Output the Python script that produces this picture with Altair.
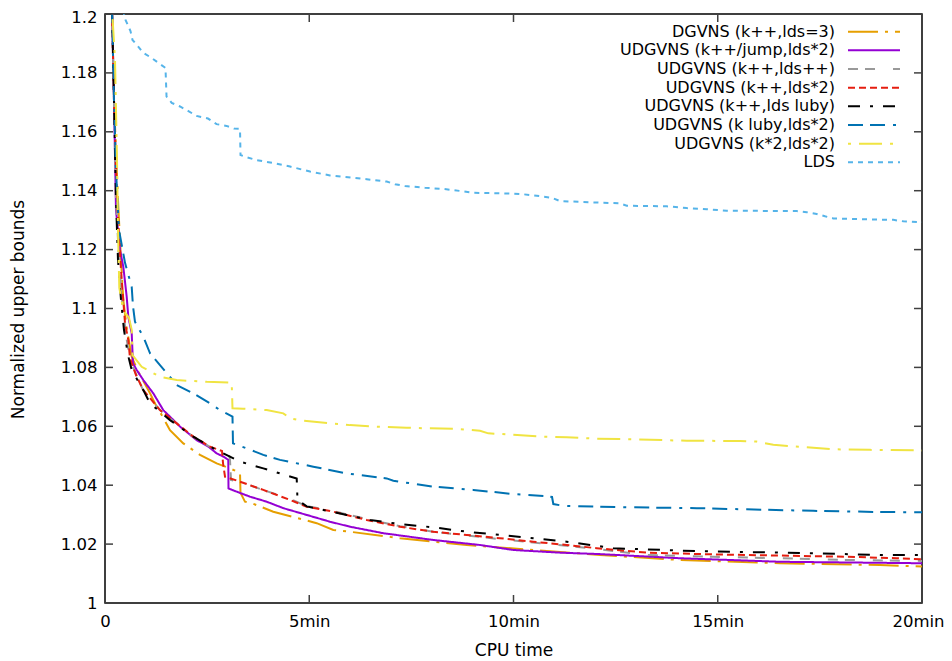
import altair as alt
import pandas as pd

series_names = ["DGVNS (k++,lds=3)", "UDGVNS (k++/jump,lds*2)", "UDGVNS (k++,lds++)",
                "UDGVNS (k++,lds*2)", "UDGVNS (k++,lds luby)", "UDGVNS (k luby,lds*2)",
                "UDGVNS (k*2,lds*2)", "LDS"]
colors = ["#e69f00", "#9400d3", "#999999", "#e51e10", "#000000", "#0072b2", "#f0e442", "#56b4e9"]
dashes = [[30, 7, 3, 7], [1, 0], [10, 7, 10, 18], [7, 4], [12, 10, 3, 10],
          [15, 7, 15, 8, 3, 8], [3, 8, 23, 8], [5, 5]]

x_ticks = [0, 5, 10, 15, 20]
y_ticks = [1.0, 1.02, 1.04, 1.06, 1.08, 1.1, 1.12, 1.14, 1.16, 1.18, 1.2]

# time in minutes, normalized upper bound
t_dgvns = [0.171, 0.22, 0.318, 0.392, 0.448, 0.539, 0.654, 0.815, 1.102, 1.266, 1.346, 1.591, 1.917,
           2.326, 2.734, 3.06, 3.305, 3.317, 3.427, 3.591, 4.12, 4.693, 5.182, 5.589, 5.998, 7.222,
           8.855, 10.485, 12.118, 14.076, 16.524, 18.972, 20.0]
v_dgvns = [1.2020, 1.1708, 1.1368, 1.1165, 1.1029, 1.0927, 1.0836, 1.0785, 1.0712, 1.0666, 1.0649,
           1.0587, 1.0542, 1.0503, 1.0474, 1.0457, 1.0442, 1.0374, 1.0344, 1.0339, 1.0310, 1.0289,
           1.0271, 1.0248, 1.0242, 1.0220, 1.0197, 1.0180, 1.0163, 1.0146, 1.0135, 1.0129, 1.0124]

t_jump = [0.171, 0.22, 0.269, 0.367, 0.448, 0.531, 0.571, 0.654, 0.685, 0.776, 0.938, 1.182, 1.427,
          1.836, 2.245, 2.529, 2.734, 2.913, 3.018, 3.023, 3.224, 3.55, 3.958, 4.365, 4.938, 5.508,
          5.998, 6.813, 8.037, 9.18, 9.995, 11.138, 12.118, 14.076, 16.524, 20.0]
v_jump = [1.2020, 1.1708, 1.1334, 1.1199, 1.1142, 1.1040, 1.0972, 1.0916, 1.0814, 1.0791, 1.0757,
          1.0712, 1.0655, 1.0599, 1.0553, 1.0531, 1.0508, 1.0496, 1.0486, 1.0389, 1.0378, 1.0361,
          1.0344, 1.0322, 1.0299, 1.0276, 1.0259, 1.0237, 1.0214, 1.0197, 1.0180, 1.0171, 1.0166,
          1.0152, 1.0140, 1.0135]

t_ldspp = [0.171, 0.22, 0.269, 0.343, 0.416, 0.514, 0.612, 0.93, 1.346, 1.755, 2.162, 2.57, 3.036,
           3.06, 3.084, 3.305, 3.868, 4.529, 4.938, 5.589, 6.406, 7.222, 8.037, 8.855, 9.67, 10.485,
           11.302, 12.118, 13.261, 14.891, 16.524, 18.157, 20.0]
v_ldspp = [1.2020, 1.1708, 1.1368, 1.1165, 1.1029, 1.0910, 1.0825, 1.0723, 1.0655, 1.0608, 1.0564,
           1.0530, 1.0503, 1.0486, 1.0418, 1.0411, 1.0384, 1.0353, 1.0329, 1.0312, 1.0285, 1.0261,
           1.0242, 1.0229, 1.0217, 1.0205, 1.0194, 1.0182, 1.0163, 1.0157, 1.0152, 1.0146, 1.0143]

t_lds2 = [0.171, 0.22, 0.294, 0.392, 0.49, 0.571, 0.612, 0.759, 0.938, 1.346, 1.755, 2.162, 2.57,
          2.864, 2.889, 2.938, 3.305, 3.875, 4.529, 4.938, 5.589, 6.406, 7.222, 8.037, 8.855, 9.67,
          10.485, 11.302, 12.037, 13.261, 14.891, 16.524, 18.157, 19.381, 20.0]
v_lds2 = [1.2020, 1.1708, 1.1368, 1.1131, 1.0950, 1.0893, 1.0831, 1.0774, 1.0723, 1.0655, 1.0610,
          1.0565, 1.0531, 1.0516, 1.0475, 1.0429, 1.0412, 1.0384, 1.0350, 1.0327, 1.0310, 1.0282,
          1.0259, 1.0242, 1.0231, 1.0220, 1.0208, 1.0197, 1.0186, 1.0171, 1.0165, 1.0161, 1.0157,
          1.0152, 1.0148]

t_luby = [0.171, 0.22, 0.269, 0.318, 0.392, 0.465, 0.563, 0.654, 0.938, 1.102, 1.591, 2.162, 2.57,
          2.896, 3.305, 3.875, 4.693, 4.712, 4.938, 5.344, 5.917, 6.487, 7.222, 8.037, 8.855, 9.67,
          10.485, 11.302, 12.037, 12.443, 14.076, 15.709, 17.339, 18.972, 20.0]
v_luby = [1.2020, 1.1708, 1.1368, 1.1165, 1.1029, 1.0927, 1.0842, 1.0791, 1.0723, 1.0678, 1.0621,
          1.0565, 1.0531, 1.0508, 1.0480, 1.0457, 1.0423, 1.0350, 1.0328, 1.0316, 1.0299, 1.0282,
          1.0268, 1.0257, 1.0242, 1.0231, 1.0220, 1.0208, 1.0194, 1.0186, 1.0178, 1.0173, 1.0169,
          1.0163, 1.0163]

t_kluby = [0.171, 0.22, 0.269, 0.343, 0.49, 0.654, 0.685, 0.734, 0.938, 1.102, 1.346, 1.591, 1.755,
           2.162, 2.57, 2.815, 3.121, 3.133, 3.469, 3.875, 4.284, 5.099, 5.917, 6.896, 7.058, 8.037,
           9.016, 9.995, 10.813, 10.943, 10.975, 11.219, 12.076, 12.852, 14.485, 15.709, 17.339,
           18.972, 20.0]
v_kluby = [1.2020, 1.1708, 1.1470, 1.1266, 1.1155, 1.1073, 1.1008, 1.0955, 1.0904, 1.0848, 1.0808,
           1.0768, 1.0740, 1.0712, 1.0678, 1.0655, 1.0633, 1.0542, 1.0525, 1.0503, 1.0486, 1.0463,
           1.0440, 1.0423, 1.0415, 1.0395, 1.0384, 1.0370, 1.0363, 1.0360, 1.0336, 1.0330, 1.0327,
           1.0325, 1.0322, 1.0318, 1.0313, 1.0309, 1.0308]

t_k2 = [0.171, 0.245, 0.294, 0.318, 0.35, 0.448, 0.588, 0.654, 0.673, 0.898, 1.346, 1.755, 2.49,
        3.102, 3.121, 3.378, 3.958, 4.365, 4.529, 4.854, 5.508, 5.998, 6.568, 7.386, 8.61, 9.18,
        9.383, 9.67, 10.649, 11.302, 12.037, 12.852, 14.24, 15.545, 15.954, 16.36, 17.178, 17.829,
        18.727, 20.0]
v_k2 = [1.2020, 1.1844, 1.1504, 1.1266, 1.1070, 1.0995, 1.0968, 1.0927, 1.0842, 1.0802, 1.0768,
        1.0757, 1.0751, 1.0748, 1.0661, 1.0660, 1.0655, 1.0644, 1.0627, 1.0619, 1.0610, 1.0604,
        1.0599, 1.0595, 1.0591, 1.0585, 1.0576, 1.0574, 1.0565, 1.0563, 1.0558, 1.0556, 1.0551,
        1.0550, 1.0548, 1.0537, 1.0529, 1.0522, 1.0520, 1.0518]

t_lds = [0.44, 0.502, 0.624, 0.673, 0.808, 0.93, 1.138, 1.297, 1.481, 1.506, 1.633, 1.836, 2.032,
         2.24, 2.521, 2.73, 2.974, 3.158, 3.305, 3.317, 3.464, 3.709, 4.113, 4.529, 5.018, 5.508,
         5.949, 6.406, 6.896, 7.099, 7.344, 7.834, 8.274, 8.764, 9.009, 9.988, 10.233, 10.69,
         10.935, 11.138, 11.628, 12.607, 12.771, 13.75, 14.24, 14.73, 15.22, 16.933, 17.178,
         17.423, 17.626, 17.829, 18.563, 19.298, 19.543, 20.0]
v_lds = [1.2014, 1.1980, 1.1942, 1.1912, 1.1890, 1.1869, 1.1851, 1.1835, 1.1817, 1.1720, 1.1698,
         1.1686, 1.1671, 1.1654, 1.1645, 1.1626, 1.1620, 1.1611, 1.1610, 1.1521, 1.1514, 1.1504,
         1.1494, 1.1482, 1.1465, 1.1452, 1.1446, 1.1439, 1.1431, 1.1422, 1.1416, 1.1410, 1.1406,
         1.1398, 1.1393, 1.1390, 1.1388, 1.1381, 1.1376, 1.1365, 1.1362, 1.1357, 1.1349, 1.1347,
         1.1341, 1.1337, 1.1332, 1.1331, 1.1327, 1.1321, 1.1313, 1.1306, 1.1303, 1.1301, 1.1296,
         1.1293]

all_t = [t_dgvns, t_jump, t_ldspp, t_lds2, t_luby, t_kluby, t_k2, t_lds]
all_v = [v_dgvns, v_jump, v_ldspp, v_lds2, v_luby, v_kluby, v_k2, v_lds]

rows = []
for k, name in enumerate(series_names):
    for i, (t, v) in enumerate(zip(all_t[k], all_v[k])):
        rows.append({"series": name, "rank": k, "i": i, "t": t, "v": v})
df = pd.DataFrame(rows)

FONT = "DejaVu Sans"
TICK_COLOR = "#404040"
W, H = 817, 589

xs = alt.Scale(domain=[0, 20], nice=False, zero=False)
ys = alt.Scale(domain=[1.0, 1.2], nice=False, zero=False)
cs = alt.Scale(domain=series_names, range=colors)
ds = alt.Scale(domain=series_names, range=dashes)

lines = alt.Chart(df).mark_line(strokeWidth=2, clip=True).encode(
    x=alt.X("t:Q", scale=xs, axis=alt.Axis(
        values=x_ticks, labelExpr="datum.value == 0 ? '0' : datum.value + 'min'",
        title="CPU time", ticks=False, domain=False, grid=False, labelPadding=10,
        labelFlush=False, labelBaseline="top", titleY=47, titleBaseline="middle",
        labelOffset={"condition": {"test": "datum.value == 20", "value": -4}, "value": 0})),
    y=alt.Y("v:Q", scale=ys, axis=alt.Axis(
        values=y_ticks, format=".2~f", title="Normalized upper bounds", ticks=False,
        domain=False, grid=False, labelPadding=8, labelFlush=False, titleX=-87, titleY=295,
        titleBaseline="middle",
        labelOffset={"condition": {"test": "datum.value == 1.2", "value": 3}, "value": 0})),
    color=alt.Color("series:N", scale=cs, legend=None),
    strokeDash=alt.StrokeDash("series:N", scale=ds, legend=None),
    detail="rank:O",
    order="i:Q",
)

xt = pd.DataFrame({"t": x_ticks})
yt = pd.DataFrame({"v": y_ticks})
tick_mark = dict(color=TICK_COLOR, strokeWidth=1.5)
bottom_ticks = alt.Chart(xt).mark_rule(**tick_mark).encode(
    x=alt.X("t:Q", scale=xs, axis=None), y=alt.value(H), y2=alt.value(H - 8))
top_ticks = alt.Chart(xt).mark_rule(**tick_mark).encode(
    x=alt.X("t:Q", scale=xs, axis=None), y=alt.value(0), y2=alt.value(8))
left_ticks = alt.Chart(yt).mark_rule(**tick_mark).encode(
    y=alt.Y("v:Q", scale=ys, axis=None), x=alt.value(0), x2=alt.value(8))
right_ticks = alt.Chart(yt).mark_rule(**tick_mark).encode(
    y=alt.Y("v:Q", scale=ys, axis=None), x=alt.value(W), x2=alt.value(W - 8))

leg_df = pd.DataFrame({"series": series_names})
leg_y = alt.Y("series:N", sort=series_names, axis=None,
              scale=alt.Scale(type="point", domain=series_names, range=[17.7, 148.3], padding=0))
leg_rules = alt.Chart(leg_df).mark_rule(strokeWidth=2).encode(
    x=alt.value(743), x2=alt.value(795), y=leg_y,
    color=alt.Color("series:N", scale=cs, legend=None),
    strokeDash=alt.StrokeDash("series:N", scale=ds, legend=None))
leg_text = alt.Chart(leg_df).mark_text(align="right", baseline="middle", font=FONT,
                                        fontSize=16, color="black").encode(
    x=alt.value(730), y=leg_y, text="series:N")

chart = alt.layer(
    lines, bottom_ticks, top_ticks, left_ticks, right_ticks, leg_rules, leg_text
).resolve_scale(x="independent", y="independent").properties(
    width=W, height=H,
    autosize=alt.AutoSizeParams(type="none"),
    padding={"left": 97, "top": 6, "right": 22, "bottom": 58},
).configure_view(
    stroke="black", strokeWidth=1.5
).configure_axis(
    labelFont=FONT, labelFontSize=16.5, labelColor="black",
    titleFont=FONT, titleFontSize=17, titleColor="black", titleFontWeight="normal",
)

chart.save("out.html", embed_options={"renderer": "svg", "actions": False})
